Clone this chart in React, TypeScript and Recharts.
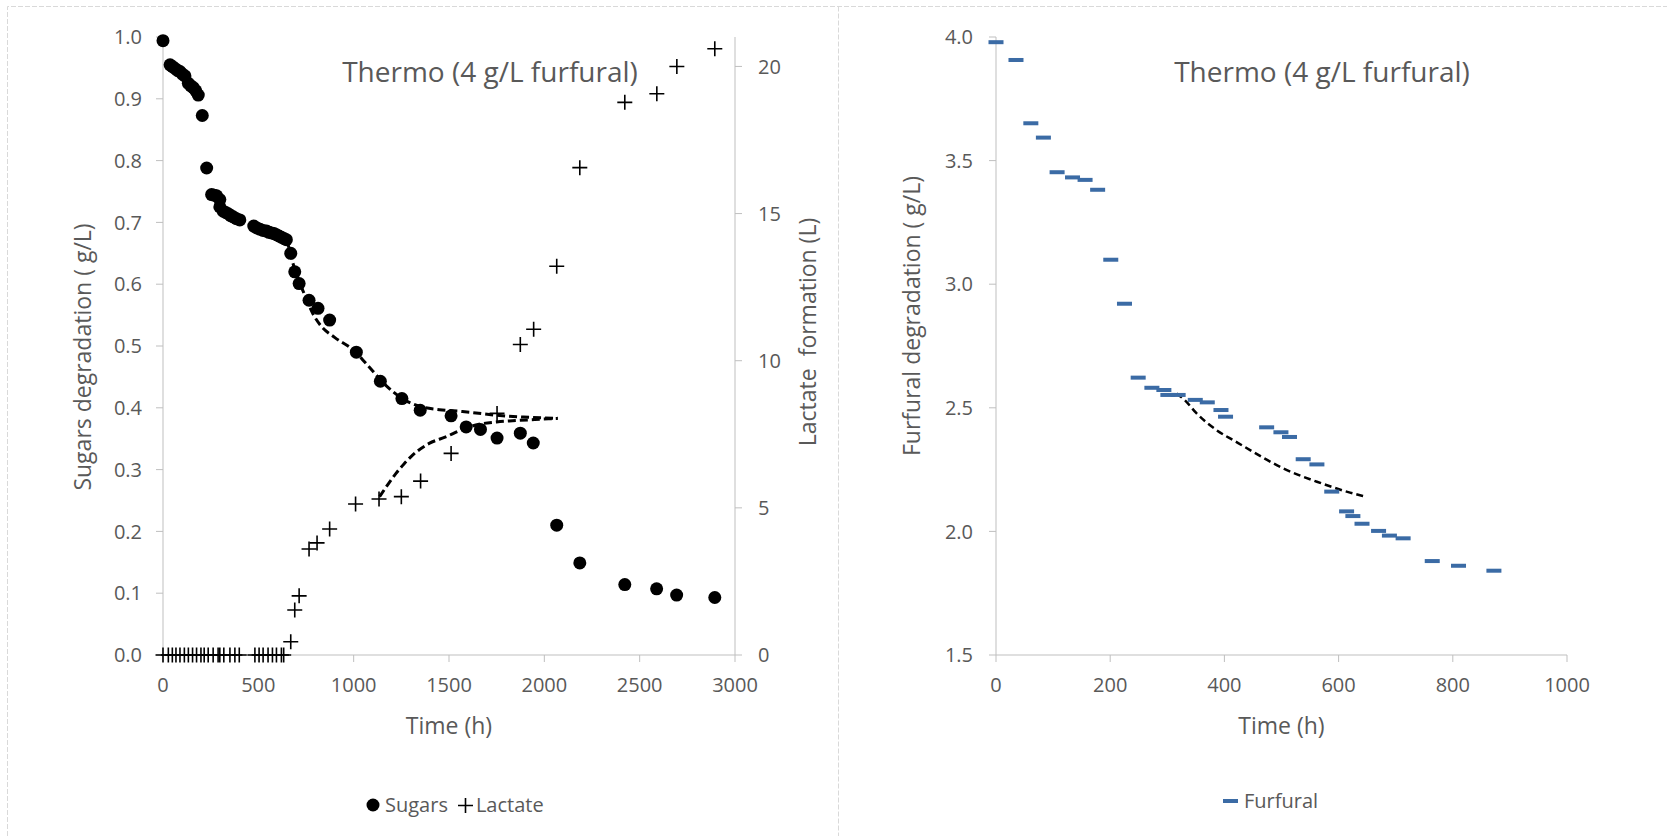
import { ComposedChart, Scatter, Line, XAxis, YAxis, Label } from "recharts";

const FONT = "'Open Sans', sans-serif";
const TEXT = "#595959";
const AXIS = "#bfbfbf";
const BLUE = "#3b6ba5";

// sugars: time (h) / concentration (g/L)
const sugarTime = [
  0, 37, 50, 63, 76, 89, 102, 115, 133, 146, 159, 172, 185, 206, 229, 255, 268, 281, 298, 298,
  316, 329, 342, 355, 368, 385, 403, 476, 492, 508, 525, 543, 556, 569, 582, 595, 608, 621, 634,
  647, 670, 691, 714, 766, 813, 874, 1014, 1140, 1253, 1349, 1511, 1590, 1665, 1752, 1874, 1942,
  2065, 2186, 2422, 2589, 2694, 2894,
];
const sugarConc = [
  0.994, 0.955, 0.952, 0.949, 0.946, 0.944, 0.94, 0.937, 0.925, 0.921, 0.918, 0.913, 0.906, 0.873,
  0.788, 0.745, 0.744, 0.743, 0.737, 0.725, 0.718, 0.716, 0.714, 0.711, 0.709, 0.706, 0.704, 0.694,
  0.691, 0.689, 0.687, 0.686, 0.684, 0.683, 0.682, 0.68, 0.678, 0.676, 0.674, 0.672, 0.65, 0.62,
  0.601, 0.574, 0.561, 0.542, 0.49, 0.443, 0.415, 0.396, 0.387, 0.369, 0.365, 0.351, 0.359, 0.343,
  0.21, 0.149, 0.114, 0.107, 0.097, 0.093,
];

// lactate: time (h) / amount (L)
const lactateTime = [
  0, 28, 49, 68, 89, 112, 133, 155, 176, 199, 216, 237, 263, 289, 298, 319, 351, 377, 400, 482,
  504, 525, 551, 574, 595, 621, 633, 670, 691, 714, 766, 808, 874, 1010, 1133, 1250, 1351, 1511,
  1752, 1874, 1944, 2065, 2186, 2422, 2590, 2695, 2894,
];
const lactateAmt = [
  0, 0, 0, 0, 0, 0, 0, 0, 0, 0, 0, 0, 0, 0, 0, 0, 0, 0, 0, 0, 0, 0, 0, 0, 0, 0, 0, 0.45, 1.53, 2.01,
  3.6, 3.81, 4.28, 5.13, 5.3, 5.38, 5.91, 6.85, 8.21, 10.55, 11.07, 13.21, 16.56, 18.78, 19.07, 20.0,
  20.6,
];

// model curves (dashed)
const sugarFitTime = [650, 690, 740, 790, 830, 900, 1000, 1070, 1170, 1260, 1350, 1450, 1570, 1750, 1890, 2070];
const sugarFitConc = [0.672, 0.625, 0.585, 0.55, 0.532, 0.514, 0.493, 0.47, 0.436, 0.414, 0.402, 0.397, 0.394, 0.388, 0.385, 0.383];
const lactateFitTime = [1136, 1180, 1222, 1265, 1309, 1396, 1483, 1571, 1658, 1750, 1833, 1950, 2070];
const lactateFitAmt = [5.38, 5.8, 6.17, 6.5, 6.79, 7.19, 7.41, 7.67, 7.84, 7.92, 7.96, 8.0, 8.04];

// furfural: time (h) / concentration (g/L)
const furfuralTime = [
  0, 35, 61, 83, 107, 134, 156, 178, 201, 225, 249, 273, 294, 301, 319, 349, 370, 394, 402, 474,
  499, 514, 538, 562, 588, 614, 625, 641, 670, 689, 713, 764, 810, 872,
];
const furfuralConc = [
  3.979, 3.907, 3.651, 3.593, 3.453, 3.432, 3.422, 3.382, 3.099, 2.921, 2.622, 2.581, 2.572, 2.552,
  2.552, 2.532, 2.522, 2.491, 2.464, 2.421, 2.401, 2.382, 2.292, 2.271, 2.161, 2.081, 2.062, 2.031,
  2.002, 1.983, 1.972, 1.88, 1.861, 1.841,
];
const furfuralFitTime = [316, 331, 351, 386, 420, 445, 503, 562, 620, 643];
const furfuralFitConc = [2.558, 2.53, 2.478, 2.41, 2.363, 2.329, 2.255, 2.201, 2.157, 2.143];

const timeTicksLong = [0, 500, 1000, 1500, 2000, 2500, 3000];
const sugarTicks = [0, 0.1, 0.2, 0.3, 0.4, 0.5, 0.6, 0.7, 0.8, 0.9, 1.0];
const lactateTicks = [0, 5, 10, 15, 20];
const timeTicksShort = [0, 200, 400, 600, 800, 1000];
const furfuralTicks = [1.5, 2.0, 2.5, 3.0, 3.5, 4.0];

const zip = (xs: number[], ys: number[]) => xs.map((t, i) => ({ t, v: ys[i] }));

const tickStyle = { fill: TEXT, fontSize: 20, fontFamily: FONT };

const Dot = (p: any) => <circle cx={p.cx} cy={p.cy} r={6.5} fill="#000" />;
const Plus = (p: any) => (
  <path
    d={`M${p.cx - 7.5},${p.cy}H${p.cx + 7.5}M${p.cx},${p.cy - 7.5}V${p.cy + 7.5}`}
    stroke="#000"
    strokeWidth={1.6}
    fill="none"
  />
);
const Dash = (p: any) => <rect x={p.cx - 7.5} y={p.cy - 2} width={15} height={4} fill={BLUE} />;

type TitleProps = { viewBox?: any; text: string; dx?: number; dy?: number; vertical?: boolean };

function AxisTitle({ viewBox, text, dx = 0, dy = 0, vertical }: TitleProps) {
  if (!viewBox) return null;
  const { x, y, width, height } = viewBox;
  const cx = vertical ? x + dx : x + width / 2 + dx;
  const cy = vertical ? y + height / 2 + dy : y + dy;
  return (
    <text
      x={cx}
      y={cy}
      transform={vertical ? `rotate(-90 ${cx} ${cy})` : undefined}
      textAnchor="middle"
      dominantBaseline="central"
      fill={TEXT}
      fontSize={23}
      fontFamily={FONT}
      style={{ whiteSpace: "pre" }}
    >
      {text}
    </text>
  );
}

const titleStyle: React.CSSProperties = {
  position: "absolute",
  top: 57,
  width: 600,
  textAlign: "center",
  fontFamily: FONT,
  fontSize: 28,
  lineHeight: "28px",
  color: TEXT,
  whiteSpace: "nowrap",
};

const legendText: React.CSSProperties = {
  fontFamily: FONT,
  fontSize: 20,
  lineHeight: "20px",
  color: TEXT,
  whiteSpace: "nowrap",
};

function SugarLactateChart() {
  return (
    <ComposedChart width={838} height={836} margin={{ top: 37, right: 50, bottom: 151, left: 63 }}>
      <XAxis
        type="number"
        dataKey="t"
        domain={[0, 3000]}
        ticks={timeTicksLong}
        height={30}
        stroke={AXIS}
        tickSize={7}
        tickMargin={16}
        tick={tickStyle}
      >
        <Label content={(p: any) => <AxisTitle viewBox={p.viewBox} text="Time (h)" dy={70} />} />
      </XAxis>
      <YAxis
        yAxisId="left"
        type="number"
        dataKey="v"
        domain={[0, 1]}
        ticks={sugarTicks}
        width={100}
        stroke={AXIS}
        tickSize={7}
        tickMargin={14}
        tick={tickStyle}
        tickFormatter={(v: number) => v.toFixed(1)}
      >
        <Label
          content={(p: any) => (
            <AxisTitle viewBox={p.viewBox} text="Sugars degradation ( g/L)" vertical dx={19} dy={11} />
          )}
        />
      </YAxis>
      <YAxis
        yAxisId="right"
        orientation="right"
        type="number"
        dataKey="v"
        domain={[0, 21]}
        ticks={lactateTicks}
        width={53}
        stroke={AXIS}
        tickSize={7}
        tickMargin={16}
        tick={tickStyle}
      >
        <Label
          content={(p: any) => (
            <AxisTitle viewBox={p.viewBox} text="Lactate  formation (L)" vertical dx={72} dy={-14} />
          )}
        />
      </YAxis>
      <Line
        yAxisId="left"
        data={zip(sugarFitTime, sugarFitConc)}
        dataKey="v"
        type="monotone"
        stroke="#000"
        strokeWidth={3}
        strokeDasharray="8 4"
        dot={false}
        activeDot={false}
        isAnimationActive={false}
      />
      <Line
        yAxisId="right"
        data={zip(lactateFitTime, lactateFitAmt)}
        dataKey="v"
        type="monotone"
        stroke="#000"
        strokeWidth={3}
        strokeDasharray="8 4"
        dot={false}
        activeDot={false}
        isAnimationActive={false}
      />
      <Scatter yAxisId="left" name="Sugars" data={zip(sugarTime, sugarConc)} shape={Dot} isAnimationActive={false} />
      <Scatter yAxisId="right" name="Lactate" data={zip(lactateTime, lactateAmt)} shape={Plus} isAnimationActive={false} />
    </ComposedChart>
  );
}

function FurfuralChart() {
  return (
    <ComposedChart width={829} height={836} margin={{ top: 37, right: 100, bottom: 151, left: 58 }}>
      <XAxis
        type="number"
        dataKey="t"
        domain={[0, 1000]}
        ticks={timeTicksShort}
        height={30}
        stroke={AXIS}
        tickSize={7}
        tickMargin={16}
        tick={tickStyle}
      >
        <Label content={(p: any) => <AxisTitle viewBox={p.viewBox} text="Time (h)" dy={70} />} />
      </XAxis>
      <YAxis
        type="number"
        dataKey="v"
        domain={[1.5, 4]}
        ticks={furfuralTicks}
        width={100}
        stroke={AXIS}
        tickSize={7}
        tickMargin={16}
        tick={tickStyle}
        tickFormatter={(v: number) => v.toFixed(1)}
      >
        <Label
          content={(p: any) => (
            <AxisTitle viewBox={p.viewBox} text="Furfural degradation ( g/L)" vertical dx={15} dy={-30} />
          )}
        />
      </YAxis>
      <Line
        data={zip(furfuralFitTime, furfuralFitConc)}
        dataKey="v"
        type="monotone"
        stroke="#000"
        strokeWidth={2.5}
        strokeDasharray="7 4"
        dot={false}
        activeDot={false}
        isAnimationActive={false}
      />
      <Scatter name="Furfural" data={zip(furfuralTime, furfuralConc)} shape={Dash} isAnimationActive={false} />
    </ComposedChart>
  );
}

export default function App() {
  return (
    <div style={{ position: "absolute", left: 0, top: 0, width: 1667, height: 836, background: "#fff", overflow: "hidden" }}>
      <svg width={1667} height={836} style={{ position: "absolute", left: 0, top: 0 }}>
        <path d="M7.5,836V6.5H1667M838.5,6.5V836" stroke="#d9d9d9" strokeWidth={1} strokeDasharray="5 2" fill="none" />
      </svg>

      <div style={{ position: "absolute", left: 0, top: 0 }}>
        <SugarLactateChart />
      </div>
      <div style={{ position: "absolute", left: 838, top: 0 }}>
        <FurfuralChart />
      </div>

      <div style={{ ...titleStyle, left: 190 }}>Thermo (4 g/L furfural)</div>
      <div style={{ ...titleStyle, left: 1022 }}>Thermo (4 g/L furfural)</div>

      <div style={{ position: "absolute", left: 366, top: 795, display: "flex", alignItems: "center", height: 20 }}>
        <svg width={14} height={14} style={{ marginRight: 5 }}>
          <circle cx={7} cy={7} r={6.5} fill="#000" />
        </svg>
        <span style={legendText}>Sugars</span>
        <svg width={15} height={15} style={{ marginLeft: 10, marginRight: 3 }}>
          <path d="M0,7.5H15M7.5,0V15" stroke="#000" strokeWidth={1.6} />
        </svg>
        <span style={legendText}>Lactate</span>
      </div>

      <div style={{ position: "absolute", left: 1223, top: 791, display: "flex", alignItems: "center", height: 20 }}>
        <svg width={15} height={4} style={{ marginRight: 6 }}>
          <rect x={0} y={0} width={15} height={4} fill={BLUE} />
        </svg>
        <span style={legendText}>Furfural</span>
      </div>
    </div>
  );
}
